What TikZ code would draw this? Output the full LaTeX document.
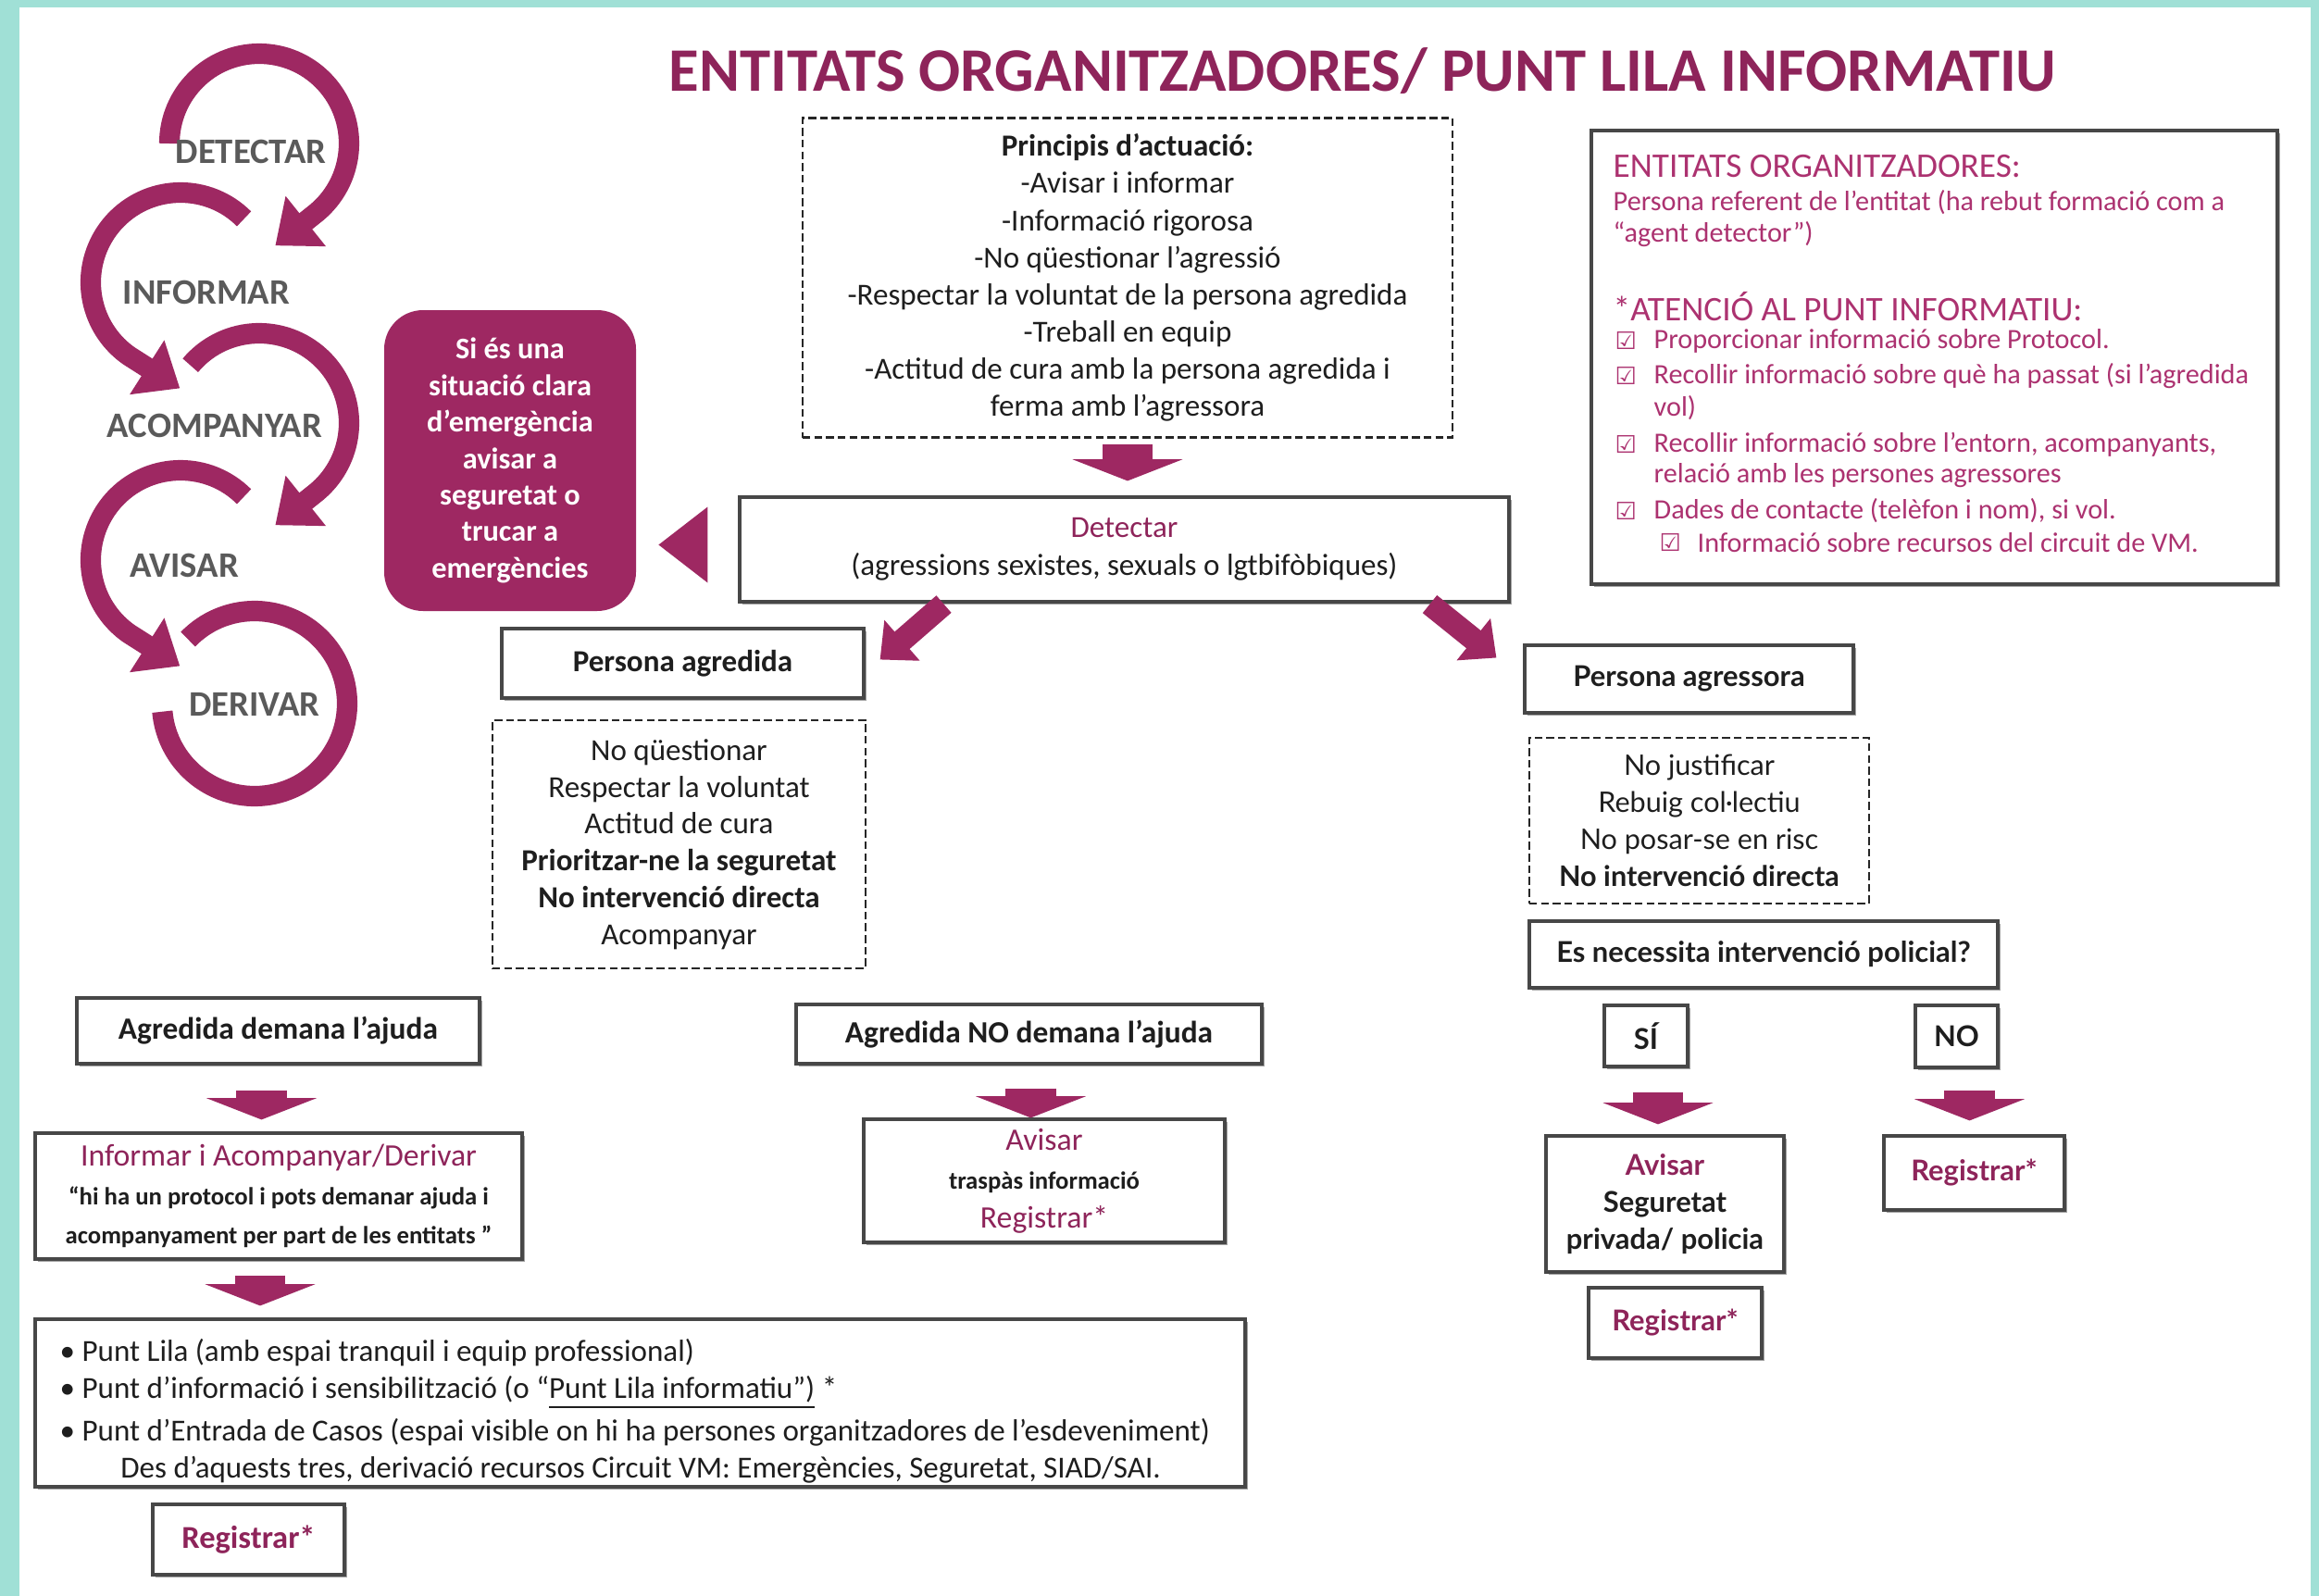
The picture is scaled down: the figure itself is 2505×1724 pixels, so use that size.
\documentclass[tikz,border=0pt]{standalone}
\usepackage{fontspec}
\setmainfont{Carlito}
\newfontfamily\gill{Lato}
\newfontfamily\symf{DejaVu Sans}
\usetikzlibrary{arrows.meta,shadows,calc}
\definecolor{tealb}{RGB}{160,224,214}
\definecolor{mag}{RGB}{158,40,98}
\definecolor{tmag}{RGB}{142,36,90}
\definecolor{imag}{RGB}{172,50,112}
\definecolor{lgray}{RGB}{90,90,90}
\definecolor{tblack}{RGB}{30,30,30}
\newcommand\fsz[2]{\fontsize{#1pt}{#2pt}\selectfont}
\newcommand\cbox{{\symf\fsz{7.4}{9}☑}}
\begin{document}
\begin{tikzpicture}[x=0.01cm,y=-0.01cm,
 box/.style={draw=black!72, line width=0.9pt, fill=white, drop shadow={shadow xshift=0.9pt,shadow yshift=-0.9pt,fill=black!45,opacity=0.8}, inner sep=0pt, align=center, text=tblack},
 dbox/.style={draw=black!85, dash pattern=on 2.4pt off 1.2pt, line width=0.7pt, inner sep=0pt, align=center, text=tblack},
 sz/.style 2 args={minimum width=#1*0.01cm, minimum height=#2*0.01cm},
 txt/.style={inner sep=0pt, text=tblack},
 blk/.style={draw=mag, line width=15.4pt, -{Triangle[width=33.6pt,length=6.6pt]}},
 diag/.style={draw=mag, line width=7pt, -{Triangle[width=16pt,length=9pt]}},
 cyc/.style={draw=mag, line width=6.3pt},
 cyca/.style={cyc, -{Triangle[width=19pt,length=12pt]}},
 lab/.style={txt, text=lgray, font=\fsz{11}{13}\bfseries},
 itxt/.style={txt, anchor=west, text=imag, font=\fsz{8.6}{10}},
 ihead/.style={txt, anchor=west, text=imag, font=\fsz{10.6}{12}},
 gtxt/.style={font=\gill\bfseries\fsz{8.8}{11.4}},
]
% background frame
\fill[tealb] (0,0) rectangle (2505,1724);
\fill[white] (21,8) rectangle (2496,1724);
\useasboundingbox (0,0) rectangle (2505,1724);

% title
\node[txt, text=tmag, font=\fsz{19}{23}\bfseries] (title) at (1472,77) {ENTITATS ORGANITZADORES/ PUNT LILA INFORMATIU};

% cycle of arcs
\coordinate (c1) at (280,155);
\coordinate (c2) at (195,305);
\coordinate (c3) at (280,457);
\coordinate (c4) at (195,605);
\coordinate (c5) at (275,760);
\draw[cyca] ($(c1)+(-180:97)$) arc[start angle=-180,end angle=50,radius=97] -- ++(-45,36);
\draw[cyca] ($(c2)+(-45:97)$) arc[start angle=-45,end angle=-235,radius=97] -- ++(55,35);
\draw[cyca] ($(c3)+(-140:97)$) arc[start angle=-140,end angle=50,radius=97] -- ++(-45,36);
\draw[cyca] ($(c4)+(-45:97)$) arc[start angle=-45,end angle=-235,radius=97] -- ++(55,35);
\draw[cyc] ($(c5)+(-136:100)$) arc[start angle=-136,end angle=175,radius=100];
\node[lab] (l1) at (271,164) {DETECTAR};
\node[lab] (l2) at (223,316) {INFORMAR};
\node[lab] (l3) at (232,460) {ACOMPANYAR};
\node[lab] (l4) at (199,611) {AVISAR};
\node[lab] (l5) at (275,761) {DERIVAR};

% principis
\node[dbox, sz={702}{345}, font=\fsz{9.4}{11.4}] (princ) at (1218,300)
 {{\bfseries Principis d'actuació:}\\-Avisar i informar\\-Informació rigorosa\\-No qüestionar l'agressió\\-Respectar la voluntat de la persona agredida\\-Treball en equip\\-Actitud de cura amb la persona agredida i\\ferma amb l'agressora};

% detectar
\node[box, sz={831}{113}, font=\fsz{9.4}{11.6}] (det) at (1214.5,593.5)
 {\textcolor{tmag}{Detectar}\\(agressions sexistes, sexuals o lgtbifòbiques)};

% emergency
\node[fill=mag, rounded corners=0.42cm, sz={272}{325}, inner sep=0pt, align=center, text=white, font=\fsz{9.2}{11.2}\bfseries] (emerg) at (551,497.5)
 {Si és una\\situació clara\\d'emergència\\avisar a\\seguretat o\\trucar a\\emergències};
\fill[mag] ($(det.west)+(-33,-46)$) -- ($(det.west)+(-33,36)$) -- ($(det.west)+(-86,-5)$) -- cycle;

% info box
\node[box, line width=1.2pt, sz={741}{490}] (info) at (2089.5,386) {};
\node[ihead] (i1) at (1742,180) {ENTITATS ORGANITZADORES:};
\node[itxt] (i2) at (1742,219) {Persona referent de l'entitat (ha rebut formació com a};
\node[itxt] (i3) at (1742,253) {“agent detector”)};
\node[ihead] (i4) at (1742,331) {*ATENCIÓ AL PUNT INFORMATIU:};
\node[itxt] (k1) at (1744,368) {\cbox};
\node[itxt] (i5) at (1786,368) {Proporcionar informació sobre Protocol.};
\node[itxt] (k2) at (1744,406) {\cbox};
\node[itxt] (i6) at (1786,406) {Recollir informació sobre què ha passat (si l'agredida};
\node[itxt] (i7) at (1786,441) {vol)};
\node[itxt] (k3) at (1744,480) {\cbox};
\node[itxt] (i8) at (1786,480) {Recollir informació sobre l'entorn, acompanyants,};
\node[itxt] (i9) at (1786,514) {relació amb les persones agressores};
\node[itxt] (k4) at (1744,552) {\cbox};
\node[itxt] (i10) at (1786,552) {Dades de contacte (telèfon i nom), si vol.};
\node[itxt] (k5) at (1792,586) {\cbox};
\node[itxt] (i11) at (1833,586) {Informació sobre recursos del circuit de VM.};

% persona agredida branch
\node[box, sz={391}{75}, font=\fsz{9.4}{11}\bfseries] (pagr) at (737.5,716.5) {Persona agredida};
\node[dbox, sz={403}{268}, font=\fsz{9.4}{11.3}] (agdash) at (733.5,912)
 {No qüestionar\\Respectar la voluntat\\Actitud de cura\\{\bfseries Prioritzar-ne la seguretat}\\{\bfseries No intervenció directa}\\Acompanyar};

% persona agressora branch
\node[box, sz={355}{73}, gtxt] (pags) at (1824.5,733.5) {Persona agressora};
\node[dbox, sz={367}{179}, font=\gill\fsz{8.7}{11.4}] (agsdash) at (1835.5,886.5)
 {No justificar\\Rebuig col·lectiu\\No posar-se en risc\\{\bfseries No intervenció directa}};
\node[box, sz={506}{72}, gtxt] (nec) at (1905,1031) {Es necessita intervenció policial?};
\node[box, sz={90}{66}, gtxt] (si) at (1778,1119) {SÍ};
\node[box, sz={89}{67}, gtxt] (no) at (2113.5,1119.5) {NO};
\node[box, sz={257}{147}, gtxt] (avseg) at (1798.5,1300.5)
 {\textcolor{tmag}{Avisar}\\Seguretat\\privada/ policia};
\node[box, sz={195}{80}, gtxt, text=tmag] (regno) at (2132.5,1267) {Registrar*};
\node[box, sz={187}{76}, gtxt, text=tmag] (regsi) at (1809.5,1429) {Registrar*};

% left bottom
\node[box, sz={435}{71}, font=\fsz{9.5}{11}\bfseries] (dem) at (300.5,1113.5) {Agredida demana l'ajuda};
\node[box, sz={503}{64}, font=\fsz{9.5}{11}\bfseries] (nodem) at (1111.5,1117) {Agredida NO demana l'ajuda};
\node[box, sz={526}{136}] (inf) at (301,1292)
 {{\fsz{9.6}{12}\color{tmag}Informar i Acompanyar/Derivar}\\[0pt]{\fsz{7.6}{9}\bfseries “hi ha un protocol i pots demanar ajuda i}\\{\fsz{7.6}{9}\bfseries acompanyament per part de les entitats ”}};
\node[box, sz={390}{133}] (avt) at (1128,1275.5)
 {{\fsz{9.6}{11}\color{tmag}Avisar}\\{\fsz{7.6}{10}\bfseries traspàs informació}\\{\fsz{9.6}{11}\color{tmag}Registrar*}};
\node[box, sz={1307}{181}] (big) at (691.5,1515.5) {};
\node[txt, anchor=west, font=\fsz{9.4}{11}] (b1) at (64,1461) {• Punt Lila (amb espai tranquil i equip professional)};
\node[txt, anchor=west, font=\fsz{9.4}{11}] (b2) at (64,1504) {• Punt d'informació i sensibilització (o “\underline{Punt Lila informatiu”)} *};
\node[txt, anchor=west, font=\fsz{9.4}{11}] (b3) at (64,1547) {• Punt d'Entrada de Casos (espai visible on hi ha persones organitzadores de l'esdeveniment)};
\node[txt, font=\fsz{9.4}{11}] (b4) at (692,1588) {Des d'aquests tres, derivació recursos Circuit VM: Emergències, Seguretat, SIAD/SAI.};
\node[box, sz={207}{76}, font=\fsz{9.8}{11}\bfseries, text=tmag] (regb) at (268.5,1663) {Registrar*};

% block arrows
\draw[blk] ($(princ.south)+(0,6)$) -- ($(princ.south |- det.north)+(0,-16)$);
\draw[blk] ($(dem.south)+(-18,27)$) -- ($(dem.south |- inf.north)+(-18,-13)$);
\draw[blk] ($(inf.south)+(-20,16)$) -- ($(inf.south |- big.north)+(-20,-13)$);
\draw[blk] ($(nodem.south)+(2,25)$) -- ($(nodem.south |- avt.north)+(2,0)$);
\draw[blk] ($(si.south)+(13,26)$) -- ($(si.south |- avseg.north)+(13,-11)$);
\draw[blk] ($(no.south)+(14,23)$) -- ($(no.south |- regno.north)+(14,-15)$);
% diagonal arrows
\draw[diag] ($(det.south)+(-195,1)$) -- ($(pagr.east)+(16,-4)$);
\draw[diag] ($(det.south)+(330,1)$) -- ($(pags.west)+(-29,-23)$);
\end{tikzpicture}
\end{document}
